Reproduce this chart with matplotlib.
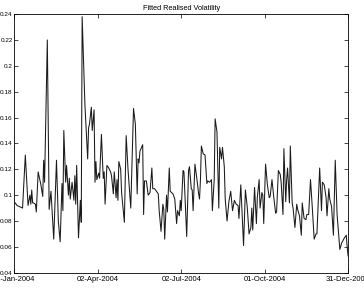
import numpy as np
import matplotlib
matplotlib.use("Agg")
import matplotlib.pyplot as plt
import matplotlib.dates as mdates
from matplotlib import font_manager
from matplotlib.ticker import FuncFormatter

plt.rcParams['font.family'] = ['Liberation Sans', 'DejaVu Sans']

# days after 02-Jan-2004
days = [1, 3, 9, 12, 15, 17, 18, 19, 20, 21, 23, 24, 26, 29, 31, 32, 33, 36, 38, 40,
        43, 46, 48, 50, 52, 53, 54, 56, 57, 59, 60, 61, 63, 65, 66, 67, 68, 70, 72, 73,
        74, 77, 80, 81, 82, 84, 85, 87, 88, 89, 90, 92, 93, 95, 97, 98, 99, 101, 103, 105,
        106, 108, 109, 111, 112, 113, 114, 116, 117, 120, 122, 124, 125, 127, 130, 132, 134, 135, 136, 137,
        140, 141, 142, 144, 146, 148, 150, 151, 153, 155, 157, 158, 160, 162, 163, 164, 166, 167, 169, 170,
        173, 175, 177, 178, 180, 181, 182, 184, 185, 188, 190, 191, 193, 194, 195, 197, 199, 201, 202, 203,
        204, 206, 208, 210, 211, 213, 215, 216, 218, 219, 221, 223, 224, 226, 227, 229, 230, 232, 234, 236,
        238, 240, 242, 244, 245, 247, 250, 252, 254, 256, 258, 259, 260, 262, 264, 265, 267, 268, 270, 271,
        272, 274, 276, 278, 279, 281, 283, 285, 286, 288, 290, 291, 293, 294, 296, 297, 298, 300, 301, 303,
        304, 306, 308, 309, 311, 313, 314, 316, 318, 319, 321, 323, 325, 327, 329, 330, 333, 335, 336, 338,
        340, 341, 343, 344, 346, 348, 350, 352, 355, 357, 360, 362, 363, 364]

vol = [0.094, 0.092, 0.090, 0.131, 0.092, 0.100, 0.093, 0.104, 0.094, 0.094, 0.093, 0.087, 0.118, 0.108, 0.099, 0.127, 0.110, 0.220, 0.089, 0.103,
       0.066, 0.127, 0.080, 0.064, 0.109, 0.088, 0.150, 0.110, 0.123, 0.100, 0.113, 0.097, 0.110, 0.096, 0.115, 0.093, 0.123, 0.067, 0.096, 0.079,
       0.238, 0.170, 0.128, 0.152, 0.155, 0.168, 0.150, 0.166, 0.110, 0.126, 0.112, 0.117, 0.113, 0.147, 0.113, 0.118, 0.093, 0.123, 0.121, 0.118,
       0.115, 0.101, 0.118, 0.098, 0.112, 0.096, 0.126, 0.120, 0.102, 0.079, 0.146, 0.120, 0.110, 0.090, 0.167, 0.155, 0.101, 0.128, 0.125, 0.134,
       0.139, 0.085, 0.111, 0.111, 0.100, 0.102, 0.121, 0.105, 0.105, 0.103, 0.101, 0.088, 0.072, 0.093, 0.089, 0.066, 0.100, 0.087, 0.121, 0.103,
       0.101, 0.097, 0.078, 0.088, 0.084, 0.096, 0.088, 0.119, 0.118, 0.068, 0.119, 0.122, 0.105, 0.104, 0.088, 0.124, 0.113, 0.101, 0.097, 0.112,
       0.138, 0.132, 0.131, 0.109, 0.111, 0.110, 0.112, 0.088, 0.112, 0.159, 0.149, 0.090, 0.137, 0.128, 0.137, 0.122, 0.097, 0.080, 0.095, 0.103,
       0.088, 0.096, 0.093, 0.092, 0.082, 0.108, 0.061, 0.104, 0.091, 0.070, 0.075, 0.090, 0.073, 0.106, 0.078, 0.098, 0.112, 0.090, 0.102, 0.100,
       0.078, 0.124, 0.108, 0.098, 0.099, 0.112, 0.098, 0.086, 0.087, 0.119, 0.116, 0.110, 0.085, 0.136, 0.095, 0.112, 0.121, 0.094, 0.138, 0.094,
       0.090, 0.075, 0.093, 0.089, 0.084, 0.069, 0.094, 0.082, 0.081, 0.085, 0.085, 0.112, 0.090, 0.066, 0.070, 0.070, 0.121, 0.088, 0.110, 0.108,
       0.098, 0.084, 0.105, 0.097, 0.091, 0.069, 0.127, 0.085, 0.058, 0.063, 0.067, 0.069, 0.060, 0.053]

tick_dates = ['2004-01-02', '2004-04-02', '2004-07-02', '2004-10-01', '2004-12-31']
yticks = [0.04, 0.06, 0.08, 0.1, 0.12, 0.14, 0.16, 0.18, 0.2, 0.22, 0.24]

start = np.datetime64('2004-01-02')
x = start + np.array(days, dtype='timedelta64[D]')

# narrow face for the y labels if it is there, else a smaller normal one
names = {f.name for f in font_manager.fontManager.ttflist}
if 'Liberation Sans Narrow' in names:
    yfam, ysize = 'Liberation Sans Narrow', 5.4
else:
    yfam, ysize = 'Liberation Sans', 4.6

fig = plt.figure(figsize=(3.64, 2.88), dpi=100)
ax = fig.add_axes([0.0393, 0.053, 0.917, 0.898])
ax.plot(x, vol, color='#1a1a1a', linewidth=0.75)

ax.set_xlim(np.datetime64(tick_dates[0]), np.datetime64(tick_dates[-1]))
ax.set_ylim(0.04, 0.24)
ax.set_xticks([np.datetime64(d) for d in tick_dates])
ax.xaxis.set_major_formatter(mdates.DateFormatter('%d-%b-%Y'))
ax.set_yticks(yticks)
ax.yaxis.set_major_formatter(FuncFormatter(lambda v, p: '%g' % round(v, 2)))

ax.tick_params(direction='in', length=3, width=0.5, top=True, right=True)
ax.tick_params(axis='x', labelsize=5.5, pad=2)
ax.tick_params(axis='y', labelsize=ysize, pad=1.2, labelfontfamily=yfam)
for s in ax.spines.values():
    s.set_linewidth(0.6)

ax.set_title('Fitted Realised Volatility', fontsize=5.3, pad=3)

fig.savefig('out.png', dpi=100)
